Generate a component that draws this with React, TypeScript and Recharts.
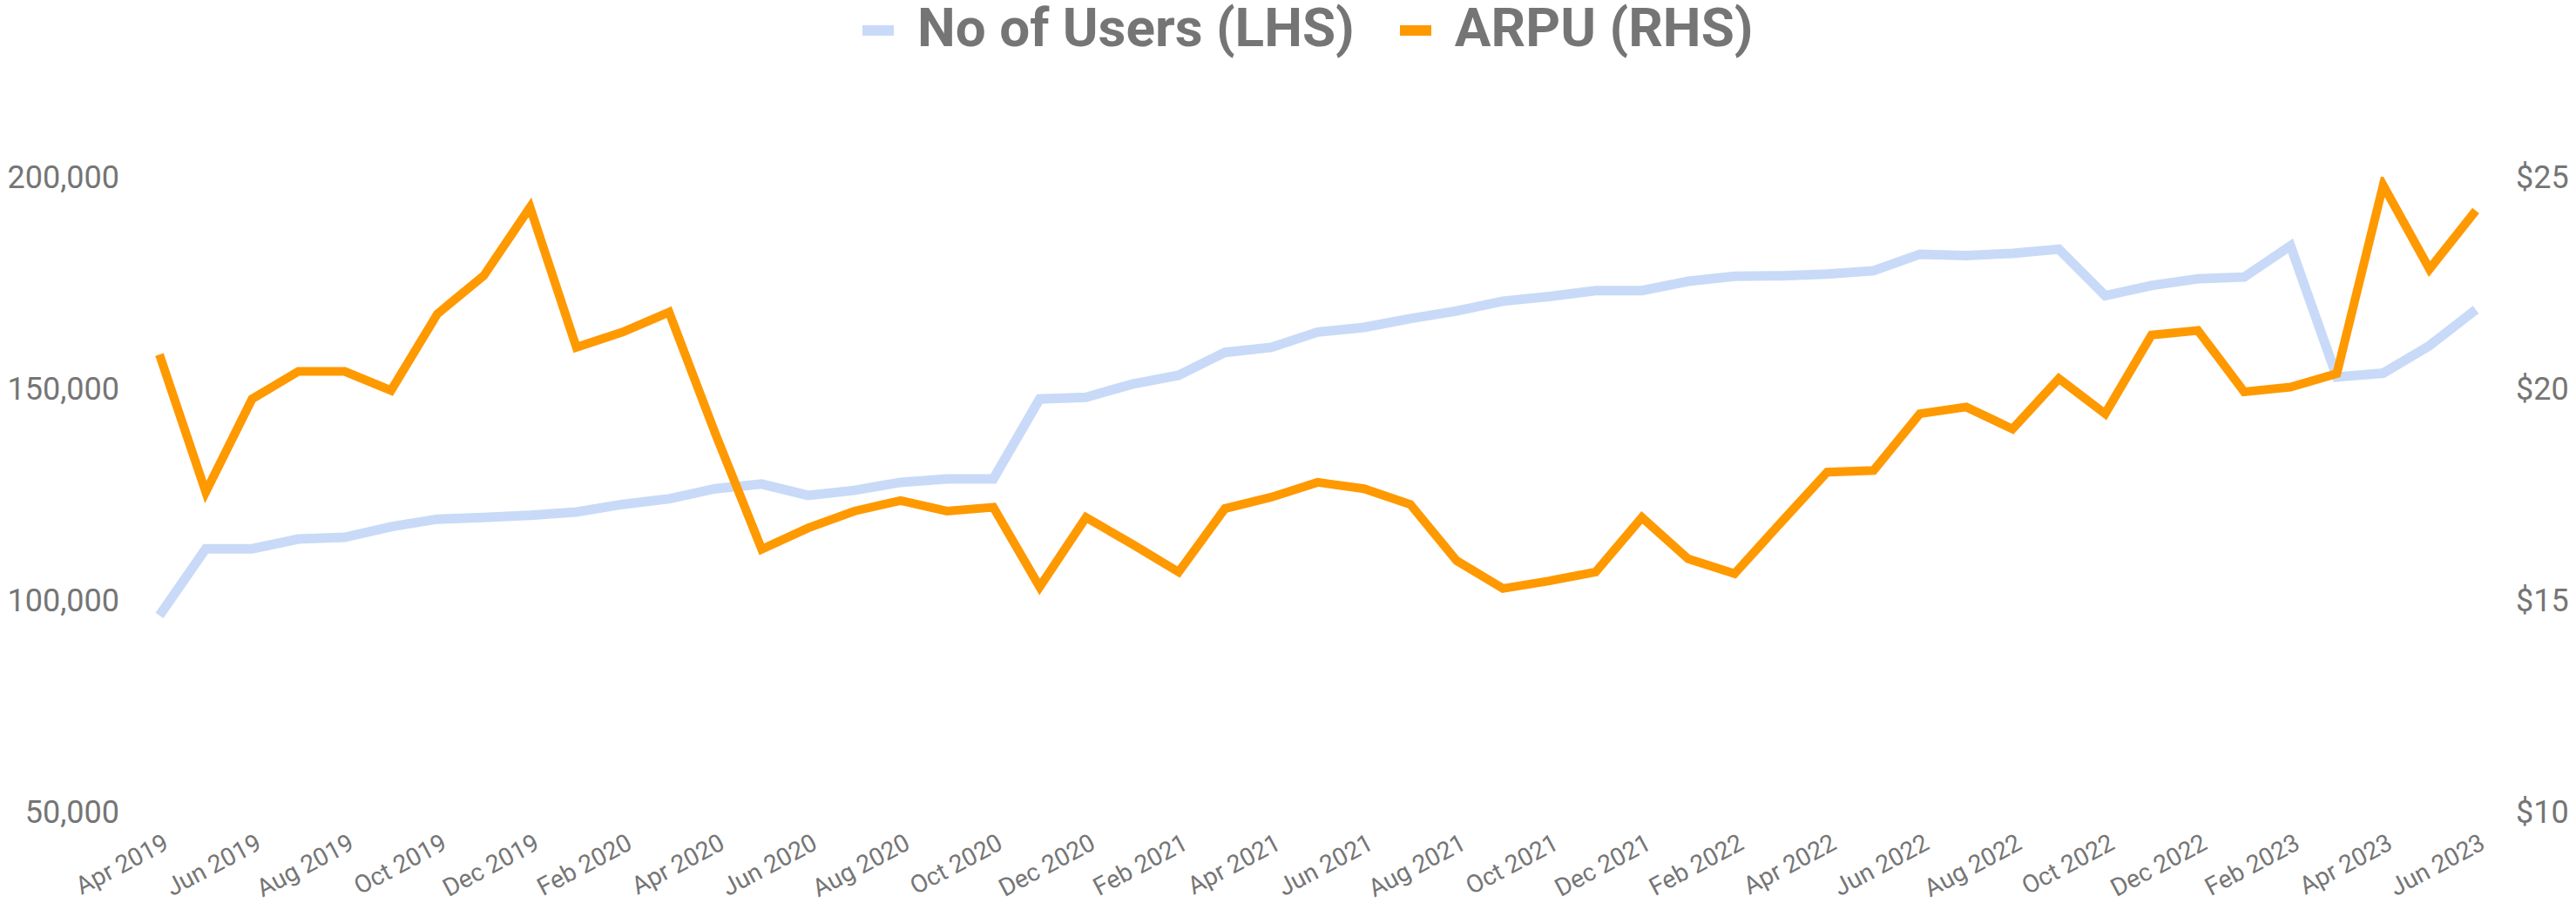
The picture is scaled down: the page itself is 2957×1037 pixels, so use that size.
import React from "react";
import { LineChart, Line, XAxis, YAxis } from "recharts";

const months = [
  "Apr 2019", "May 2019", "Jun 2019", "Jul 2019", "Aug 2019", "Sep 2019", "Oct 2019", "Nov 2019", "Dec 2019",
  "Jan 2020", "Feb 2020", "Mar 2020", "Apr 2020", "May 2020", "Jun 2020", "Jul 2020", "Aug 2020", "Sep 2020",
  "Oct 2020", "Nov 2020", "Dec 2020", "Jan 2021", "Feb 2021", "Mar 2021", "Apr 2021", "May 2021", "Jun 2021",
  "Jul 2021", "Aug 2021", "Sep 2021", "Oct 2021", "Nov 2021", "Dec 2021", "Jan 2022", "Feb 2022", "Mar 2022",
  "Apr 2022", "May 2022", "Jun 2022", "Jul 2022", "Aug 2022", "Sep 2022", "Oct 2022", "Nov 2022", "Dec 2022",
  "Jan 2023", "Feb 2023", "Mar 2023", "Apr 2023", "May 2023", "Jun 2023",
];

// No of Users (LHS)
const users = [
  96300, 112100, 112100, 114400, 114800, 117300, 119100, 119500, 120000,
  120800, 122600, 123900, 126300, 127400, 124700, 125900, 127800, 128600,
  128600, 147500, 147900, 151000, 153100, 158500, 159700, 163300, 164400,
  166500, 168300, 170600, 171700, 173100, 173100, 175300, 176500, 176600,
  177000, 177800, 181700, 181400, 181900, 182900, 171900, 174300, 175900,
  176300, 183700, 152700, 153600, 160100, 168600,
];

// ARPU (RHS)
const arpu = [
  20.8, 17.55, 19.75, 20.4, 20.4, 19.95, 21.76, 22.66, 24.28,
  20.97, 21.33, 21.8, 18.93, 16.2, 16.7, 17.1, 17.35, 17.1,
  17.19, 15.31, 16.95, 16.32, 15.66, 17.16, 17.43, 17.78, 17.63,
  17.26, 15.93, 15.27, 15.45, 15.66, 16.95, 15.97, 15.62, 16.83,
  18.02, 18.06, 19.4, 19.56, 19.04, 20.23, 19.4, 21.26, 21.37,
  19.92, 20.03, 20.35, 24.8, 22.82, 24.2,
];

const leftTicks = [50000, 100000, 150000, 200000];
const rightTicks = [10, 15, 20, 25];

const data = months.map((month, i) => ({ month, users: users[i], arpu: arpu[i] }));

const GREY = "#757575";
const BLUE = "#c9daf8";
const ORANGE = "#ff9900";

// rotated month label, end-anchored just below the axis
const XTick = (props: any) => {
  const { x, y, payload } = props;
  return (
    <g transform={`translate(${x + 3},${y + 24})`}>
      <text transform="rotate(-28)" textAnchor="end" dy="0.71em" fill={GREY} fontSize={28.5} fontFamily="Roboto">
        {payload.value}
      </text>
    </g>
  );
};

const legendItems = [
  { name: "No of Users (LHS)", color: BLUE },
  { name: "ARPU (RHS)", color: ORANGE },
];

export default function App() {
  return (
    <div style={{ position: "absolute", left: 0, top: 0, width: 2957, height: 1037, background: "#fff", fontFamily: "Roboto" }}>
      <div style={{ position: "absolute", left: 990, top: 1, display: "flex", alignItems: "center", gap: 52 }}>
        {legendItems.map((item) => (
          <div key={item.name} style={{ display: "flex", alignItems: "center" }}>
            <div style={{ width: 36, height: 12, background: item.color, marginRight: 27, marginTop: 6 }} />
            <span style={{ fontSize: 62, fontWeight: 700, color: GREY, lineHeight: "62px", whiteSpace: "nowrap" }}>
              {item.name}
            </span>
          </div>
        ))}
      </div>
      <LineChart width={2957} height={1037} data={data} margin={{ top: 203, right: 0, bottom: 0, left: 0 }}>
        <XAxis
          dataKey="month"
          interval={1}
          tick={<XTick />}
          tickLine={false}
          axisLine={false}
          tickSize={0}
          tickMargin={0}
          height={105}
        />
        <YAxis
          yAxisId="left"
          width={183}
          domain={[50000, 200000]}
          ticks={leftTicks}
          interval={0}
          tickFormatter={(v: number) => v.toLocaleString("en-US")}
          tick={{ fill: GREY, fontSize: 36, fontFamily: "Roboto" }}
          tickLine={false}
          axisLine={false}
          tickSize={0}
          tickMargin={46}
          allowDataOverflow
        />
        <YAxis
          yAxisId="right"
          orientation="right"
          width={115}
          domain={[10, 25]}
          ticks={rightTicks}
          interval={0}
          tickFormatter={(v: number) => `$${v}`}
          tick={{ fill: GREY, fontSize: 36, fontFamily: "Roboto" }}
          tickLine={false}
          axisLine={false}
          tickSize={0}
          tickMargin={46}
          allowDataOverflow
        />
        <Line
          yAxisId="left"
          type="linear"
          dataKey="users"
          name="No of Users (LHS)"
          stroke={BLUE}
          strokeWidth={11}
          dot={false}
          activeDot={false}
          isAnimationActive={false}
        />
        <Line
          yAxisId="right"
          type="linear"
          dataKey="arpu"
          name="ARPU (RHS)"
          stroke={ORANGE}
          strokeWidth={10}
          dot={false}
          activeDot={false}
          isAnimationActive={false}
        />
      </LineChart>
    </div>
  );
}
